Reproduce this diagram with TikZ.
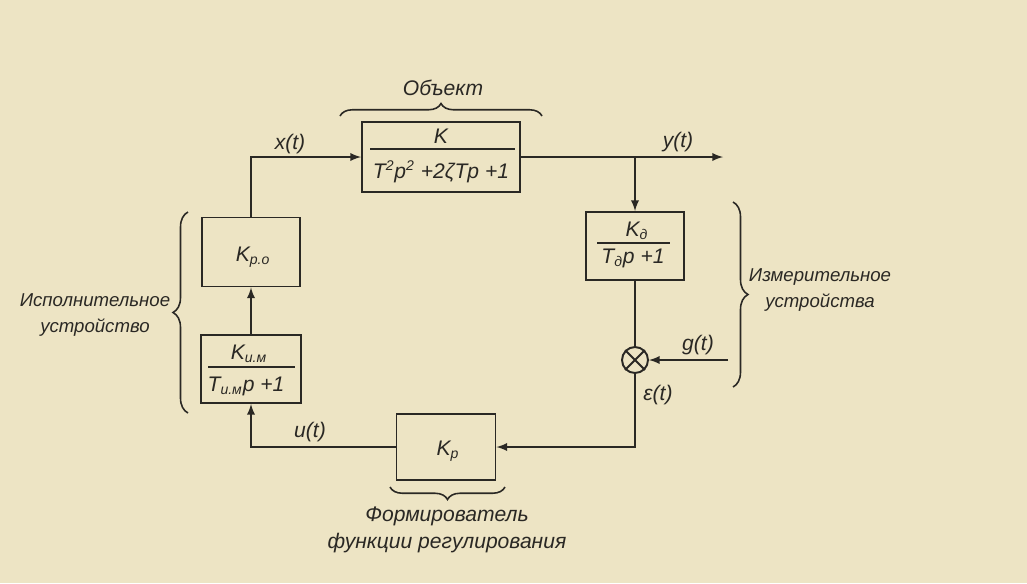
\documentclass[tikz,border=0pt]{standalone}
\usepackage{fontspec}
\setmainfont{Liberation Sans}
\usetikzlibrary{calc, positioning, decorations.pathreplacing}
\definecolor{paper}{RGB}{237,228,196}
\definecolor{ink}{RGB}{42,40,36}

\begin{document}
\begin{tikzpicture}[>=latex, x=0.02cm, y=-0.02cm, ink, line width=1.1pt,
    font=\fontsize{12}{15}\selectfont\itshape,
    blok/.style={draw, inner sep=0pt},
    small/.style={font=\fontsize{10.6}{14.5}\selectfont\itshape},
    brace/.style={decorate, decoration={brace, amplitude=#1}, line width=0.9pt}]
  \fill [paper] (0,0) rectangle (1027,583);
  % blocks
  \node (obj) at (441,157) [blok, minimum width=3.16cm, minimum height=1.4cm] {};
  \node (kd) at (635,246) [blok, minimum width=1.96cm, minimum height=1.36cm] {};
  \node (kpo) at (251,252) [blok, minimum width=1.96cm, minimum height=1.38cm] {};
  \node (kim) at (251,369) [blok, minimum width=2.0cm, minimum height=1.36cm] {};
  \node (kp) at (446,447) [blok, minimum width=1.98cm, minimum height=1.32cm] {};
  \node (sum) at (635,360) [draw, circle, minimum size=0.52cm, inner sep=0pt] {};
  \draw (sum.45) -- (sum.225) (sum.135) -- (sum.315);
  % block texts
  \node (objnum) at (441,136) {K};
  \draw (370,149) -- (515,149);
  \node (objden) at (441,172) {T\textsuperscript{2}p\textsuperscript{2} +2ζTp +1};
  \node (kdnum) at (637,231) {K\textsubscript{д}};
  \draw (597,243) -- (670,243);
  \node (kdden) at (633,258) {T\textsubscript{д}p +1};
  \node (kpotxt) at (253,257) {K\textsubscript{р.о}};
  \node (kimnum) at (249,354) {K\textsubscript{и.м}};
  \draw (208,367) -- (295,367);
  \node (kimden) at (246,386) {T\textsubscript{и.м}p +1};
  \node (kptxt) at (448,451) {K\textsubscript{р}};
  % connectors
  \coordinate (br) at (kd.north |- obj.east);
  \coordinate (yend) at (723,157);
  \coordinate (gin) at (728,360);
  \draw [->] (kpo.north) |- (obj.west);
  \draw [->] (obj.east) -- (yend);
  \draw [->] (br) -- (kd.north);
  \draw (kd.south) -- (sum.north);
  \draw [->] (gin) -- (sum.east);
  \draw [->] (sum.south) |- (kp.east);
  \draw [->] (kp.west) -| (kim.south);
  \draw [->] (kim.north) -- (kpo.south);
  % signal labels
  \node (xt) at (290,144) {x(t)};
  \node (yt) at (678,142) {y(t)};
  \node (gt) at (698,345) {g(t)};
  \node (et) at (658,395) {ε(t)};
  \node (ut) at (310,432) {u(t)};
  % braces
  \draw [brace=0.25cm] (340,116) -- (542,116);
  \draw [brace=0.3cm] (188,413) -- (188,212);
  \draw [brace=0.3cm] (733,202) -- (733,387);
  \draw [brace=0.25cm] (505,487) -- (390,487);
  \node (objlbl) at (443,88) {Объект};
  \node (ispl) at (95,315) [small, align=center] {Исполнительное\\устройство};
  \node (izml) at (820,290) [small, align=center] {Измерительное\\устройства};
  \node (forml) at (447,530) [align=center] {Формирователь\\функции регулирования};
\end{tikzpicture}
\end{document}
